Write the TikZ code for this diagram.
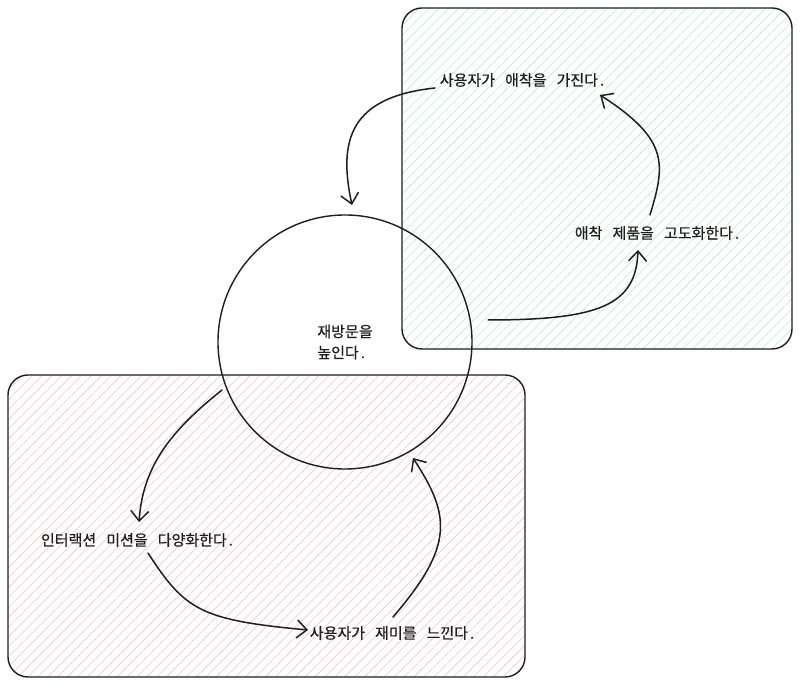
\documentclass[tikz,border=0pt]{standalone}
\usepackage{fontspec}
\newfontfamily\kr[WordSpace=3,FakeBold=0.6]{Noto Sans CJK KR}
\usetikzlibrary{arrows.meta,patterns.meta}
\definecolor{ink}{HTML}{1E1E1E}
\definecolor{hgreen}{HTML}{BDEBD0}
\definecolor{hred}{HTML}{F7C4CA}
\newcommand{\pd}{\kern2pt.}
\begin{document}
\begin{tikzpicture}[x=1pt,y=1pt,
  box/.style={draw=ink, line width=1.4pt, rounded corners=20pt},
  lbl/.style={font=\kr\fontsize{15}{21}\selectfont, text=ink, inner sep=0pt},
  conn/.style={draw=ink, line width=1.5pt, line cap=round, -{Straight Barb[length=10pt,width=18pt,line width=1.5pt]}}]
\useasboundingbox (0,0) rectangle (800,685);
\fill[white] (0,0) rectangle (800,685);
% hatched boxes
\draw[box, pattern={Lines[angle=45,distance=7pt,line width=0.6pt]}, pattern color=hgreen] (402,336) rectangle (792,677);
\draw[box, pattern={Lines[angle=45,distance=7pt,line width=0.6pt]}, pattern color=hred] (8,8) rectangle (525,310);
% circle
\node[circle, draw=ink, line width=1.4pt, minimum size=254pt, lbl, align=left] (C) at (345,343) {재방문을\\높인다\pd};
% labels
\node[lbl] (T1) at (522,605) {사용자가 애착을 가진다\pd};
\node[lbl] (T2) at (657,452) {애착 제품을 고도화한다\pd};
\node[lbl] (T4) at (137,145) {인터랙션 미션을 다양화한다\pd};
\node[lbl] (T5) at (392,52) {사용자가 재미를 느낀다\pd};
% connector ends
\coordinate (a1s) at (435,597);
\coordinate (a1e) at (352,480);
\coordinate (a2s) at (488,365);
\coordinate (a2e) at (638,435);
\coordinate (a3s) at (650,470);
\coordinate (a3e) at (600,590);
\coordinate (a4s) at (222,295);
\coordinate (a4e) at (139,163);
\coordinate (a5s) at (148,132);
\coordinate (a5e) at (308,55);
\coordinate (a6s) at (393,68);
\coordinate (a6e) at (413,227);
% connectors
\draw[conn] (a1s) .. controls (350,588) and (338,545) .. (a1e);
\draw[conn] (a2s) .. controls (600,365) and (636,380) .. (a2e);
\draw[conn] (a3s) .. controls (665,520) and (670,545) .. (a3e);
\draw[conn] (a4s) .. controls (172,255) and (143,220) .. (a4e);
\draw[conn] (a5s) .. controls (185,75) and (200,65) .. (a5e);
\draw[conn] (a6s) .. controls (455,140) and (450,170) .. (a6e);
\end{tikzpicture}
\end{document}
